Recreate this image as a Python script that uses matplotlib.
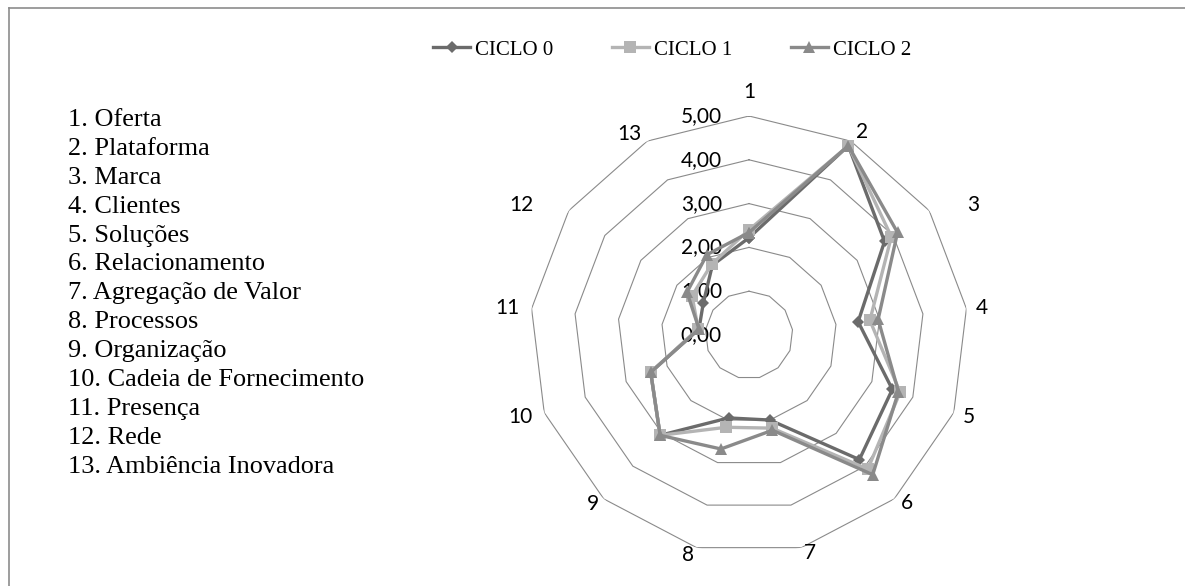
import numpy as np
import matplotlib
matplotlib.use("Agg")
import matplotlib.pyplot as plt
from matplotlib.lines import Line2D

# categories (axis numbers) and their names
axis_labels = ["1", "2", "3", "4", "5", "6", "7", "8", "9", "10", "11", "12", "13"]
names = ["1. Oferta", "2. Plataforma", "3. Marca", "4. Clientes", "5. Soluções",
         "6. Relacionamento", "7. Agregação de Valor", "8. Processos",
         "9. Organização", "10. Cadeia de Fornecimento", "11. Presença",
         "12. Rede", "13. Ambiência Inovadora"]

# values
ciclo0 = [2.22, 4.88, 3.76, 2.51, 3.50, 3.80, 2.00, 1.95, 3.06, 2.40, 1.15, 1.27, 1.80]
ciclo1 = [2.40, 4.88, 3.95, 2.78, 3.69, 4.09, 2.19, 2.17, 3.06, 2.40, 1.17, 1.58, 1.83]
ciclo2 = [2.34, 4.88, 4.12, 2.97, 3.65, 4.26, 2.24, 2.68, 3.06, 2.40, 1.15, 1.72, 2.07]

ring_values = [0, 1, 2, 3, 4, 5]
ring_labels = ["0,00", "1,00", "2,00", "3,00", "4,00", "5,00"]

# where excel put the axis number labels (degrees clockwise from top, radius)
label_theta = [0, 29.2, 60, 83.4, 110.5, 136.8, 164.4, 195.5, 222.7, 250.3, 276.4, 299.8, 329.2]
label_r = [5.55, 5.30, 5.92, 5.36, 5.35, 5.27, 5.17, 5.21, 5.26, 5.55, 5.54, 5.99, 5.33]

W, H = 1185, 586
fig = plt.figure(figsize=(W / 100, H / 100), dpi=100)

# outer border: only its left and top edges fall inside the picture
fig.add_artist(Line2D([9 / W, 9 / W], [0, 1 - 8 / H], transform=fig.transFigure,
                      color="#8c8c8c", linewidth=1.2))
fig.add_artist(Line2D([9 / W, 1], [1 - 8 / H, 1 - 8 / H], transform=fig.transFigure,
                      color="#8c8c8c", linewidth=1.2))

cx, cy, R = 749, 335, 219
ax = fig.add_axes([(cx - R) / W, (H - cy - R) / H, 2 * R / W, 2 * R / H], projection="polar")
ax.set_theta_zero_location("N")
ax.set_theta_direction(-1)
ax.set_ylim(0, 5)
ax.set_xticks([])
ax.set_yticks([])
ax.grid(False)
ax.spines["polar"].set_visible(False)
ax.patch.set_alpha(0)

n = len(axis_labels)
angles = np.linspace(0, 2 * np.pi, n, endpoint=False)
closed = np.append(angles, angles[0])

# polygon rings
for v in ring_values[1:]:
    ax.plot(closed, [v] * (n + 1), color="#8a8a8a", linewidth=0.8, zorder=1)

# value labels along the top axis
for v, t in zip(ring_values, ring_labels):
    ax.annotate(t, xy=(0, v), xytext=(-19.5, 0), textcoords="offset points",
                ha="right", va="center", fontsize=15, family="Lato", color="black")

# axis number labels
for t, th, r in zip(axis_labels, label_theta, label_r):
    ax.text(np.deg2rad(th), r, t, ha="center", va="center", fontsize=15,
            family="Lato", color="black", clip_on=False)

series = [
    ("CICLO 0", ciclo0, "#6b6b6b", "D", 6.5),
    ("CICLO 1", ciclo1, "#b4b4b4", "s", 8),
    ("CICLO 2", ciclo2, "#8a8a8a", "^", 9),
]
handles = []
for name, vals, col, mk, ms in series:
    h, = ax.plot(closed, vals + vals[:1], color=col, linewidth=2.4, marker=mk,
                 markersize=ms, markeredgewidth=0, label=name, zorder=3, clip_on=False)
    handles.append(h)

fig.legend(handles=handles, loc="center", bbox_to_anchor=(672 / W, 1 - 50 / H), ncol=3,
           frameon=False, prop={"family": "Liberation Serif", "size": 15},
           handlelength=1.78, handletextpad=0.24, columnspacing=2.8)

# category list on the left
for i, t in enumerate(names):
    fig.text(68 / W, 1 - (120 + i * 28.9) / H, t, ha="left", va="center",
             fontsize=18.9, family="Liberation Serif", color="black")

fig.savefig("out.png", dpi=100)
